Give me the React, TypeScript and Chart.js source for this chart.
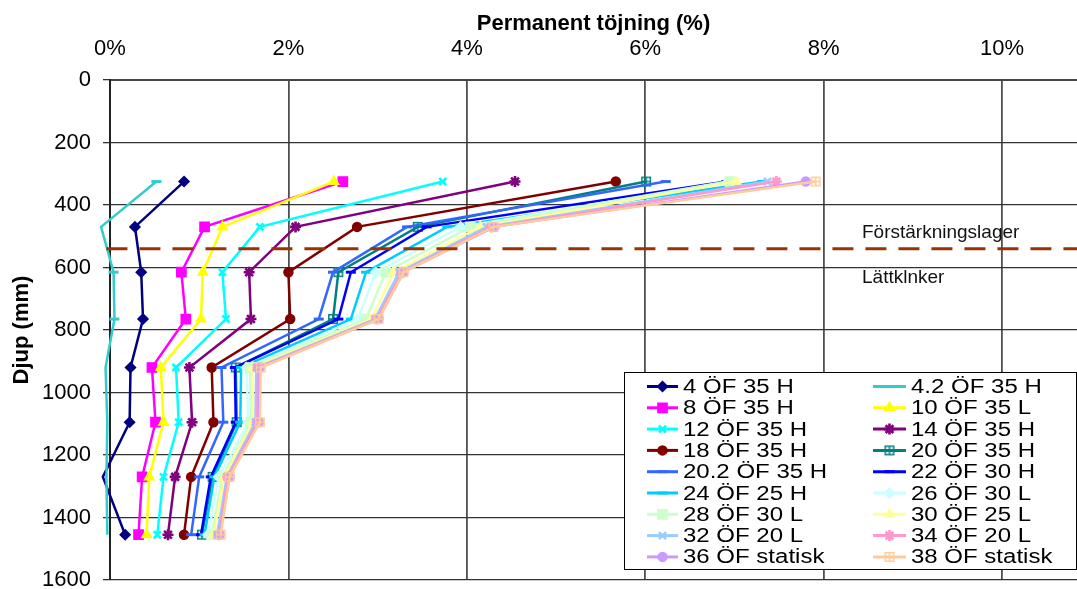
import React, { useEffect, useRef } from 'react';
import { Chart, registerables } from 'chart.js';
import { drawPoint } from 'chart.js/helpers';

Chart.register(...registerables);

// ---------- data ----------
const depths = [325, 470, 615, 765, 920, 1095, 1270, 1455];

const seriesLabels = [
  '4 ÖF 35 H', '4.2 ÖF 35 H', '8 ÖF 35 H', '10 ÖF 35 L', '12 ÖF 35 H', '14 ÖF 35 H',
  '18 ÖF 35 H', '20 ÖF 35 H', '20.2 ÖF 35 H', '22 ÖF 30 H', '24 ÖF 25 H', '26 ÖF 30 L',
  '28 ÖF 30 L', '30 ÖF 25 L', '32 ÖF 20 L', '34 ÖF 20 L', '36 ÖF statisk', '38 ÖF statisk',
];

const s4 = [0.83, 0.28, 0.35, 0.37, 0.23, 0.22, -0.08, 0.17];
const s4_2 = [0.52, -0.1, 0.04, 0.05, -0.05, -0.03, -0.04, -0.03];
const s8 = [2.61, 1.06, 0.8, 0.85, 0.47, 0.51, 0.36, 0.32];
const s10 = [2.51, 1.26, 1.04, 1.02, 0.57, 0.6, 0.44, 0.41];
const s12 = [3.73, 1.68, 1.26, 1.3, 0.74, 0.77, 0.6, 0.53];
const s14 = [4.54, 2.08, 1.56, 1.58, 0.89, 0.92, 0.73, 0.65];
const s18 = [5.67, 2.77, 2.0, 2.02, 1.14, 1.16, 0.91, 0.83];
const s20 = [6.01, 3.45, 2.56, 2.5, 1.41, 1.42, 1.15, 1.03];
const s20_2 = [6.23, 3.33, 2.5, 2.34, 1.25, 1.27, 1.0, 0.91];
const s22 = [6.91, 3.55, 2.7, 2.56, 1.4, 1.41, 1.13, 1.02];
const s24 = [7.31, 3.78, 2.87, 2.7, 1.47, 1.46, 1.17, 1.06];
const s26 = [6.93, 3.93, 2.98, 2.78, 1.53, 1.55, 1.22, 1.1];
const s28 = [6.95, 4.04, 3.09, 2.87, 1.57, 1.58, 1.26, 1.14];
const s30 = [7.02, 4.15, 3.18, 2.93, 1.6, 1.6, 1.28, 1.16];
const s32 = [7.37, 4.22, 3.24, 2.97, 1.64, 1.63, 1.31, 1.2];
const s34 = [7.47, 4.27, 3.27, 2.99, 1.66, 1.65, 1.32, 1.22];
const s36 = [7.8, 4.31, 3.29, 3.01, 1.68, 1.67, 1.34, 1.23];
const s38 = [7.91, 4.3, 3.29, 3.01, 1.69, 1.68, 1.34, 1.24];

const seriesValues = [s4, s4_2, s8, s10, s12, s14, s18, s20, s20_2, s22, s24, s26, s28, s30, s32, s34, s36, s38];

const seriesColors = [
  '#000080', '#33CCCC', '#FF00FF', '#FFFF00', '#00FFFF', '#800080',
  '#800000', '#008080', '#3366FF', '#0000FF', '#00CCFF', '#CCFFFF',
  '#CCFFCC', '#FFFF99', '#99CCFF', '#FF99CC', '#CC99FF', '#FFCC99',
];

const seriesMarkers = [
  'rectRot', 'line', 'rect', 'triangle', 'crossRot', 'star',
  'circle', 'boxPlus', 'line', 'line', 'line', 'rectRot',
  'rect', 'triangle', 'crossRot', 'star', 'circle', 'boxPlus',
];

const layerDepth = 540;
const layerLineRange = [-0.04, 10.84];
const upperLayerLabel = 'Förstärkningslager';
const lowerLayerLabel = 'Lättklnker';
const xTitle = 'Permanent töjning (%)';
const yTitle = 'Djup (mm)';

const X_MAX = 10.84;
const FONT = '"Liberation Sans", Arial, Helvetica, sans-serif';

const markerRadius: Record<string, number> = {
  rectRot: 5, line: 5, rect: 6.5, triangle: 5.5, crossRot: 5, star: 5.5, circle: 4.5, boxPlus: 6,
};
const markerBorder: Record<string, number> = {
  rectRot: 1.5, line: 3, rect: 1.5, triangle: 1.5, crossRot: 2.6, star: 2.6, circle: 1.5, boxPlus: 1.5,
};

function makeBoxPlus(color: string): HTMLCanvasElement {
  const c = document.createElement('canvas');
  c.width = 12;
  c.height = 12;
  const g = c.getContext('2d')!;
  g.strokeStyle = color;
  g.lineWidth = 1.5;
  g.strokeRect(1.75, 1.75, 8.5, 8.5);
  g.beginPath();
  g.moveTo(6, 1.75);
  g.lineTo(6, 10.25);
  g.moveTo(1.75, 6);
  g.lineTo(10.25, 6);
  g.stroke();
  return c;
}

export default function App() {
  const ref = useRef<HTMLCanvasElement | null>(null);

  useEffect(() => {
    if (!ref.current) return;
    Chart.defaults.font.family = FONT;
    Chart.defaults.color = '#000';

    const styles = seriesMarkers.map((m, i) => (m === 'boxPlus' ? makeBoxPlus(seriesColors[i]) : m));

    const datasets: any[] = seriesValues.map((vals, i) => {
      const m = seriesMarkers[i];
      const r = markerRadius[m];
      return {
        label: seriesLabels[i],
        data: depths.map((d, j) => ({ x: vals[j], y: d })),
        borderColor: seriesColors[i],
        backgroundColor: seriesColors[i],
        pointBackgroundColor: seriesColors[i],
        pointBorderColor: seriesColors[i],
        borderWidth: 2.5,
        pointStyle: styles[i],
        pointRadius: (c: any) => (c.raw && c.raw.x < 0 ? 0 : r),
        pointBorderWidth: markerBorder[m],
        tension: 0,
        clip: false,
        order: 100 - i,
      };
    });

    datasets.push({
      label: '_layer',
      data: [
        { x: layerLineRange[0], y: layerDepth },
        { x: layerLineRange[1], y: layerDepth },
      ],
      borderColor: '#993300',
      borderWidth: 3,
      borderDash: [21, 12],
      pointRadius: 0,
      clip: false,
      order: 0,
    });

    const legendPlugin = {
      id: 'customLegend',
      afterDraw(chart: any) {
        const ctx = chart.ctx as CanvasRenderingContext2D;
        const xs = chart.scales.x;
        const ys = chart.scales.y;
        ctx.save();
        // layer labels
        ctx.font = `19px ${FONT}`;
        ctx.fillStyle = '#111';
        ctx.textBaseline = 'middle';
        ctx.textAlign = 'left';
        ctx.fillText(upperLayerLabel, xs.getPixelForValue(8.43), ys.getPixelForValue(490));
        ctx.fillText(lowerLayerLabel, xs.getPixelForValue(8.43), ys.getPixelForValue(634));

        // legend box
        const bx = 624.5, by = 372.5, bw = 452, bh = 197;
        ctx.fillStyle = '#fff';
        ctx.fillRect(bx, by, bw, bh);
        ctx.strokeStyle = '#000';
        ctx.lineWidth = 1;
        ctx.strokeRect(bx, by, bw, bh);

        ctx.font = `20px ${FONT}`;
        for (let i = 0; i < seriesLabels.length; i++) {
          const col = i % 2;
          const row = Math.floor(i / 2);
          const y = 386.5 + row * 21.3;
          const x0 = col ? 873 : 647;
          const x1 = col ? 906 : 678;
          const tx = col ? 911 : 683;
          const color = seriesColors[i];
          ctx.strokeStyle = color;
          ctx.lineWidth = 3;
          ctx.setLineDash([]);
          ctx.beginPath();
          ctx.moveTo(x0, y);
          ctx.lineTo(x1, y);
          ctx.stroke();
          const m = seriesMarkers[i];
          ctx.fillStyle = color;
          ctx.lineWidth = markerBorder[m];
          drawPoint(ctx, { pointStyle: styles[i], radius: markerRadius[m], rotation: 0, borderWidth: markerBorder[m] } as any, (x0 + x1) / 2, y);
          ctx.save();
          ctx.translate(tx, y + 1);
          ctx.scale(1.2, 1);
          ctx.fillStyle = '#000';
          ctx.textBaseline = 'middle';
          ctx.fillText(seriesLabels[i], 0, 0);
          ctx.restore();
        }
        ctx.restore();
      },
    };

    const chart = new Chart(ref.current, {
      type: 'line',
      data: { datasets },
      options: {
        animation: false,
        responsive: false,
        devicePixelRatio: 1,
        layout: { autoPadding: false, padding: { top: 0, left: 0, right: 0, bottom: 9 } },
        plugins: { legend: { display: false }, tooltip: { enabled: false } },
        scales: {
          x: {
            type: 'linear',
            position: 'top',
            min: 0,
            max: X_MAX,
            ticks: {
              stepSize: 2,
              includeBounds: false,
              font: { size: 22 },
              color: '#000',
              padding: 18,
              callback: (v: any) => `${v}%`,
            },
            grid: { color: '#505050', lineWidth: 1.8, drawTicks: false },
            border: { display: true, color: '#444', width: 2 },
            title: {
              display: true,
              text: xTitle,
              font: { size: 22, weight: 'bold' },
              color: '#000',
              padding: { top: 11, bottom: 0 },
            },
            afterFit: (s: any) => {
              s.height = 80;
              s.paddingLeft = 0;
              s.paddingRight = 0;
            },
          },
          y: {
            type: 'linear',
            reverse: true,
            min: 0,
            max: 1600,
            ticks: {
              stepSize: 200,
              font: { size: 22 },
              color: '#000',
              padding: 12,
              callback: (v: any) => `${v}`,
            },
            grid: { color: '#333', lineWidth: 1.3, drawTicks: true, tickLength: 7 },
            border: { display: true, color: '#222', width: 2 },
            title: {
              display: true,
              text: yTitle,
              font: { size: 22, weight: 'bold' },
              color: '#000',
              padding: { top: 9, bottom: 0 },
            },
            afterFit: (s: any) => {
              s.width = 110;
              s.paddingTop = 0;
              s.paddingBottom = 0;
            },
          },
        },
      } as any,
      plugins: [legendPlugin],
    });
    return () => chart.destroy();
  }, []);

  return (
    <div style={{ position: 'fixed', left: 0, top: 0, width: 1077, height: 589, background: '#fff' }}>
      <canvas ref={ref} width={1077} height={589} style={{ display: 'block' }} />
    </div>
  );
}
